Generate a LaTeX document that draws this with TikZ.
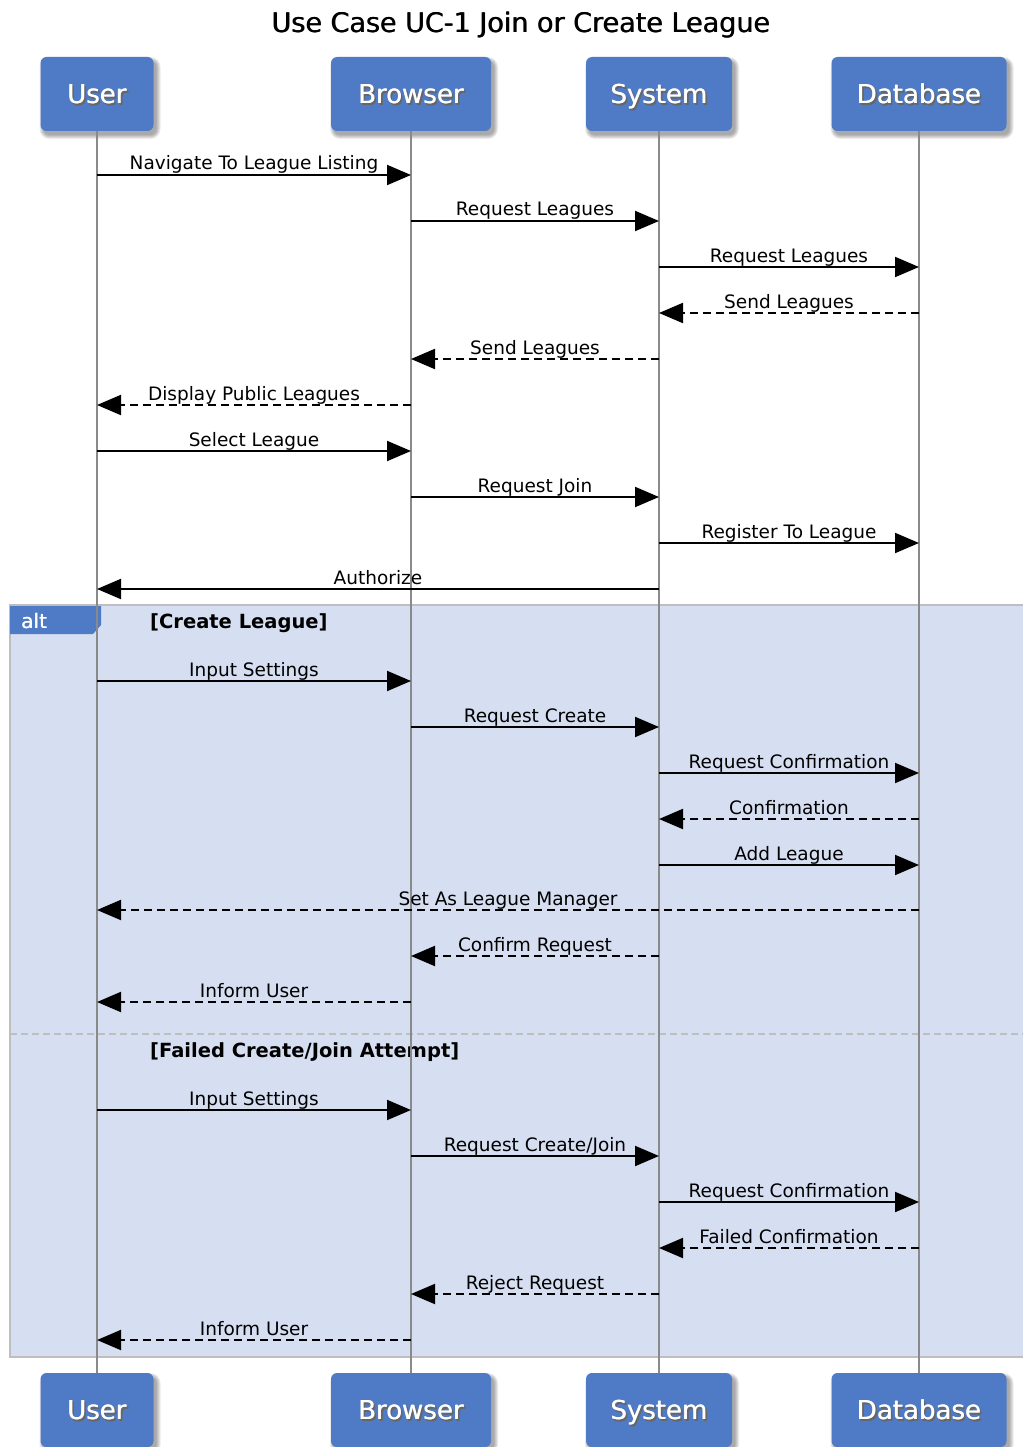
\documentclass[tikz,border=0pt]{standalone}
\usepackage{fontspec}
\setmainfont{DejaVu Sans}
\usetikzlibrary{arrows.meta,calc}

\definecolor{hdrblue}{HTML}{4F7AC6}
\definecolor{altfill}{HTML}{D6DFF1}
\definecolor{lifegray}{HTML}{8A8A8A}
\definecolor{framegray}{HTML}{BEBEBE}

% slightly heavier text: the same glyphs set twice with a tiny offset
\newcommand\heavy[2][0.6pt]{\rlap{#2}\hspace{#1}#2}
% white header text with a soft dark offset behind it
\newcommand\hdrtext[1]{{\color{black!60}\rlap{\hspace{1.6pt}\raisebox{-1.6pt}{\heavy[0.5pt]{#1}}}}\heavy[0.5pt]{#1}}

\tikzset{
  actor/.style={fill=hdrblue, rounded corners=6pt, text=white,
    font=\fontsize{26}{30}\selectfont, minimum height=74pt, inner sep=0pt,
    text height=19pt, text depth=0pt},
  lifeline/.style={draw=lifegray, line width=1.8pt},
  call/.style={line width=2pt, -{Triangle[length=24pt,width=20pt]}},
  reply/.style={call, dash pattern=on 8pt off 5pt},
  lbl/.style={font=\fontsize{18.5}{20}\selectfont, anchor=base, inner sep=0pt},
  guard/.style={font=\bfseries\fontsize{19.5}{22}\selectfont, anchor=base west, inner sep=0pt},
}

% participant box: name, x, y, width, text (a blurred shadow is laid down first)
\newcommand\actorbox[5]{%
  \foreach \g in {0,1,2,3,4}{%
    \fill[black, opacity=0.08, rounded corners=6pt+\g pt]
      (#2-#4/2+3-\g, #3-37+4-\g) rectangle (#2+#4/2+3+\g, #3+37+4+\g);
  }
  \node[actor, minimum width=#4pt] (#1) at (#2,#3) {\hdrtext{#5}};
}

% one message between two lifelines at height #3
\newcommand\msg[5]{%
  \coordinate (a#3) at (#1 |- 0,#3);
  \coordinate (b#3) at (#2 |- 0,#3);
  \draw[#5] (a#3) -- (b#3);
  \node[lbl] (t#3) at ($(a#3)!.5!(b#3)+(0,-5)$) {#4};
}

\begin{document}
\begin{tikzpicture}[x=1pt,y=-1pt]
\useasboundingbox (0,0) rectangle (1022,1447);

% title
\node[font=\fontsize{27}{30}\selectfont, anchor=base] (title) at (521,33) {\heavy{Use Case UC-1 Join or Create League}};

% alt frame
\fill[altfill] (10,605) rectangle (1030,1357);
\draw[framegray, line width=2pt] (1030,605) -- (10,605) -- (10,1357) -- (1030,1357);
\draw[framegray, line width=2pt, dash pattern=on 7pt off 4pt] (10,1034) -- (1030,1034);
\fill[hdrblue] (10,606) -- (101,606) -- (101,625) -- (93,634) -- (10,634) -- cycle;
\node[text=white, font=\fontsize{20}{22}\selectfont, anchor=base west, inner sep=0pt] (alt) at (21,628) {\heavy[0.4pt]{alt}};
\node[guard] (g1) at (150,628) {[Create League]};
\node[guard] (g2) at (150,1057) {[Failed Create/Join Attempt]};

% participants
\actorbox{uTop}{97}{94}{113}{User}
\actorbox{bTop}{411}{94}{160}{Browser}
\actorbox{sTop}{659}{94}{146}{System}
\actorbox{dTop}{919}{94}{175}{Database}
\actorbox{uBot}{97}{1410}{113}{User}
\actorbox{bBot}{411}{1410}{160}{Browser}
\actorbox{sBot}{659}{1410}{146}{System}
\actorbox{dBot}{919}{1410}{175}{Database}

% lifelines
\draw[lifeline] (uTop.south) -- (uBot.north);
\draw[lifeline] (bTop.south) -- (bBot.north);
\draw[lifeline] (sTop.south) -- (sBot.north);
\draw[lifeline] (dTop.south) -- (dBot.north);

\coordinate (U) at (uTop.south);
\coordinate (B) at (bTop.south);
\coordinate (S) at (sTop.south);
\coordinate (D) at (dTop.south);

% messages
\msg{U}{B}{175}{Navigate To League Listing}{call}
\msg{B}{S}{221}{Request Leagues}{call}
\msg{S}{D}{267}{Request Leagues}{call}
\msg{D}{S}{313}{Send Leagues}{reply}
\msg{S}{B}{359}{Send Leagues}{reply}
\msg{B}{U}{405}{Display Public Leagues}{reply}
\msg{U}{B}{451}{Select League}{call}
\msg{B}{S}{497}{Request Join}{call}
\msg{S}{D}{543}{Register To League}{call}
\msg{S}{U}{589}{Authorize}{call}

\msg{U}{B}{681}{Input Settings}{call}
\msg{B}{S}{727}{Request Create}{call}
\msg{S}{D}{773}{Request Confirmation}{call}
\msg{D}{S}{819}{Confirmation}{reply}
\msg{S}{D}{865}{Add League}{call}
\msg{D}{U}{910}{Set As League Manager}{reply}
\msg{S}{B}{956}{Confirm Request}{reply}
\msg{B}{U}{1002}{Inform User}{reply}

\msg{U}{B}{1110}{Input Settings}{call}
\msg{B}{S}{1156}{Request Create/Join}{call}
\msg{S}{D}{1202}{Request Confirmation}{call}
\msg{D}{S}{1248}{Failed Confirmation}{reply}
\msg{S}{B}{1294}{Reject Request}{reply}
\msg{B}{U}{1340}{Inform User}{reply}
\end{tikzpicture}
\end{document}
